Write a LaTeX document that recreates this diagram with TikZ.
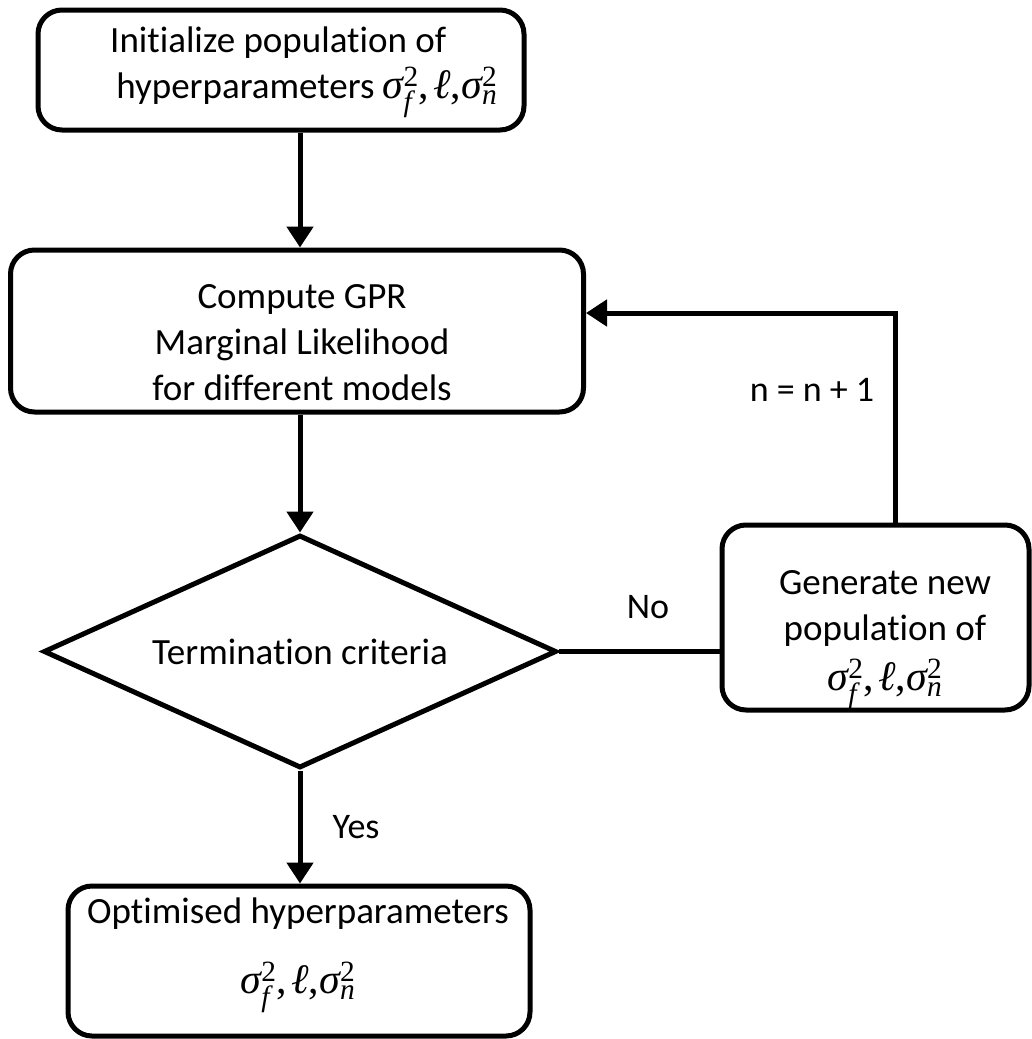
\documentclass[tikz,border=0pt]{standalone}
\usepackage{amsmath}
\usepackage{fontspec}
\setmainfont[Ligatures=NoCommon]{Carlito}
\newfontfamily\tms{Liberation Serif}
\newcommand\sgm[1]{\text{\tms\itshape σ}^{\text{\tms 2}}_{\text{\tms\itshape #1}}}
\newcommand\hyps{{\fontsize{42}{46}\selectfont$\sgm{f}\text{\tms,}\,\text{\tms\itshape ℓ}\text{\tms,}\sgm{n}$}}
\usetikzlibrary{shapes.geometric,arrows.meta}
\begin{document}
\begin{tikzpicture}[x=1pt,y=-1pt,
  box/.style={draw,line width=5pt,rounded corners=24pt,inner sep=0pt},
  txt/.style={align=center,inner sep=0pt,font=\fontsize{37}{46}\selectfont},
  dec/.style={draw,line width=5pt,diamond,aspect=2.2,inner sep=0pt,
    minimum width=513pt,minimum height=233pt,font=\fontsize{37}{46}\selectfont},
  link/.style={line width=5pt},
  arr/.style={line width=5pt,-{Triangle[length=21pt,width=26pt]}},
  lbl/.style={font=\fontsize{36}{40}\selectfont}]
\useasboundingbox (0,0) rectangle (1032,1039);
\node[box,minimum width=486pt,minimum height=120pt] (init) at (281,70) {};
\node[txt,align=left,anchor=west] (initt) at (110,72)
  {Initialize population of\\ \,hyperparameters \hyps};
\node[box,minimum width=573pt,minimum height=162pt] (gpr) at (297,331) {};
\node[txt] (gprt) at (302,343)
  {Compute GPR\\Marginal Likelihood\\for different models};
\node[dec] (term) at (300,651.5) {Termination criteria};
\node[box,minimum width=307pt,minimum height=185pt] (gen) at (875.5,617.5) {};
\node[txt] (gent) at (885,640)
  {Generate new\\population of\\[4pt]\hyps};
\node[box,minimum width=462pt,minimum height=150pt] (opt) at (299,961) {};
\node[txt] (optt) at (298,955)
  {Optimised hyperparameters\\[24pt]\hyps};
\draw[arr] (init.south -| term.north) -- (gpr.north -| term.north);
\draw[arr] (gpr.south -| term.north) -- (term.north);
\draw[link] (term.east) -- (term.east -| gen.west);
\draw[arr] ([xshift=20pt]gen.north) |- ([yshift=18pt]gpr.east);
\draw[arr] (term.south) -- (opt.north -| term.south);
\node[lbl] (no) at (648,607) {No};
\node[lbl] (inc) at (812,390) {n = n + 1};
\node[lbl] (yes) at (356,827) {Yes};
\end{tikzpicture}
\end{document}
